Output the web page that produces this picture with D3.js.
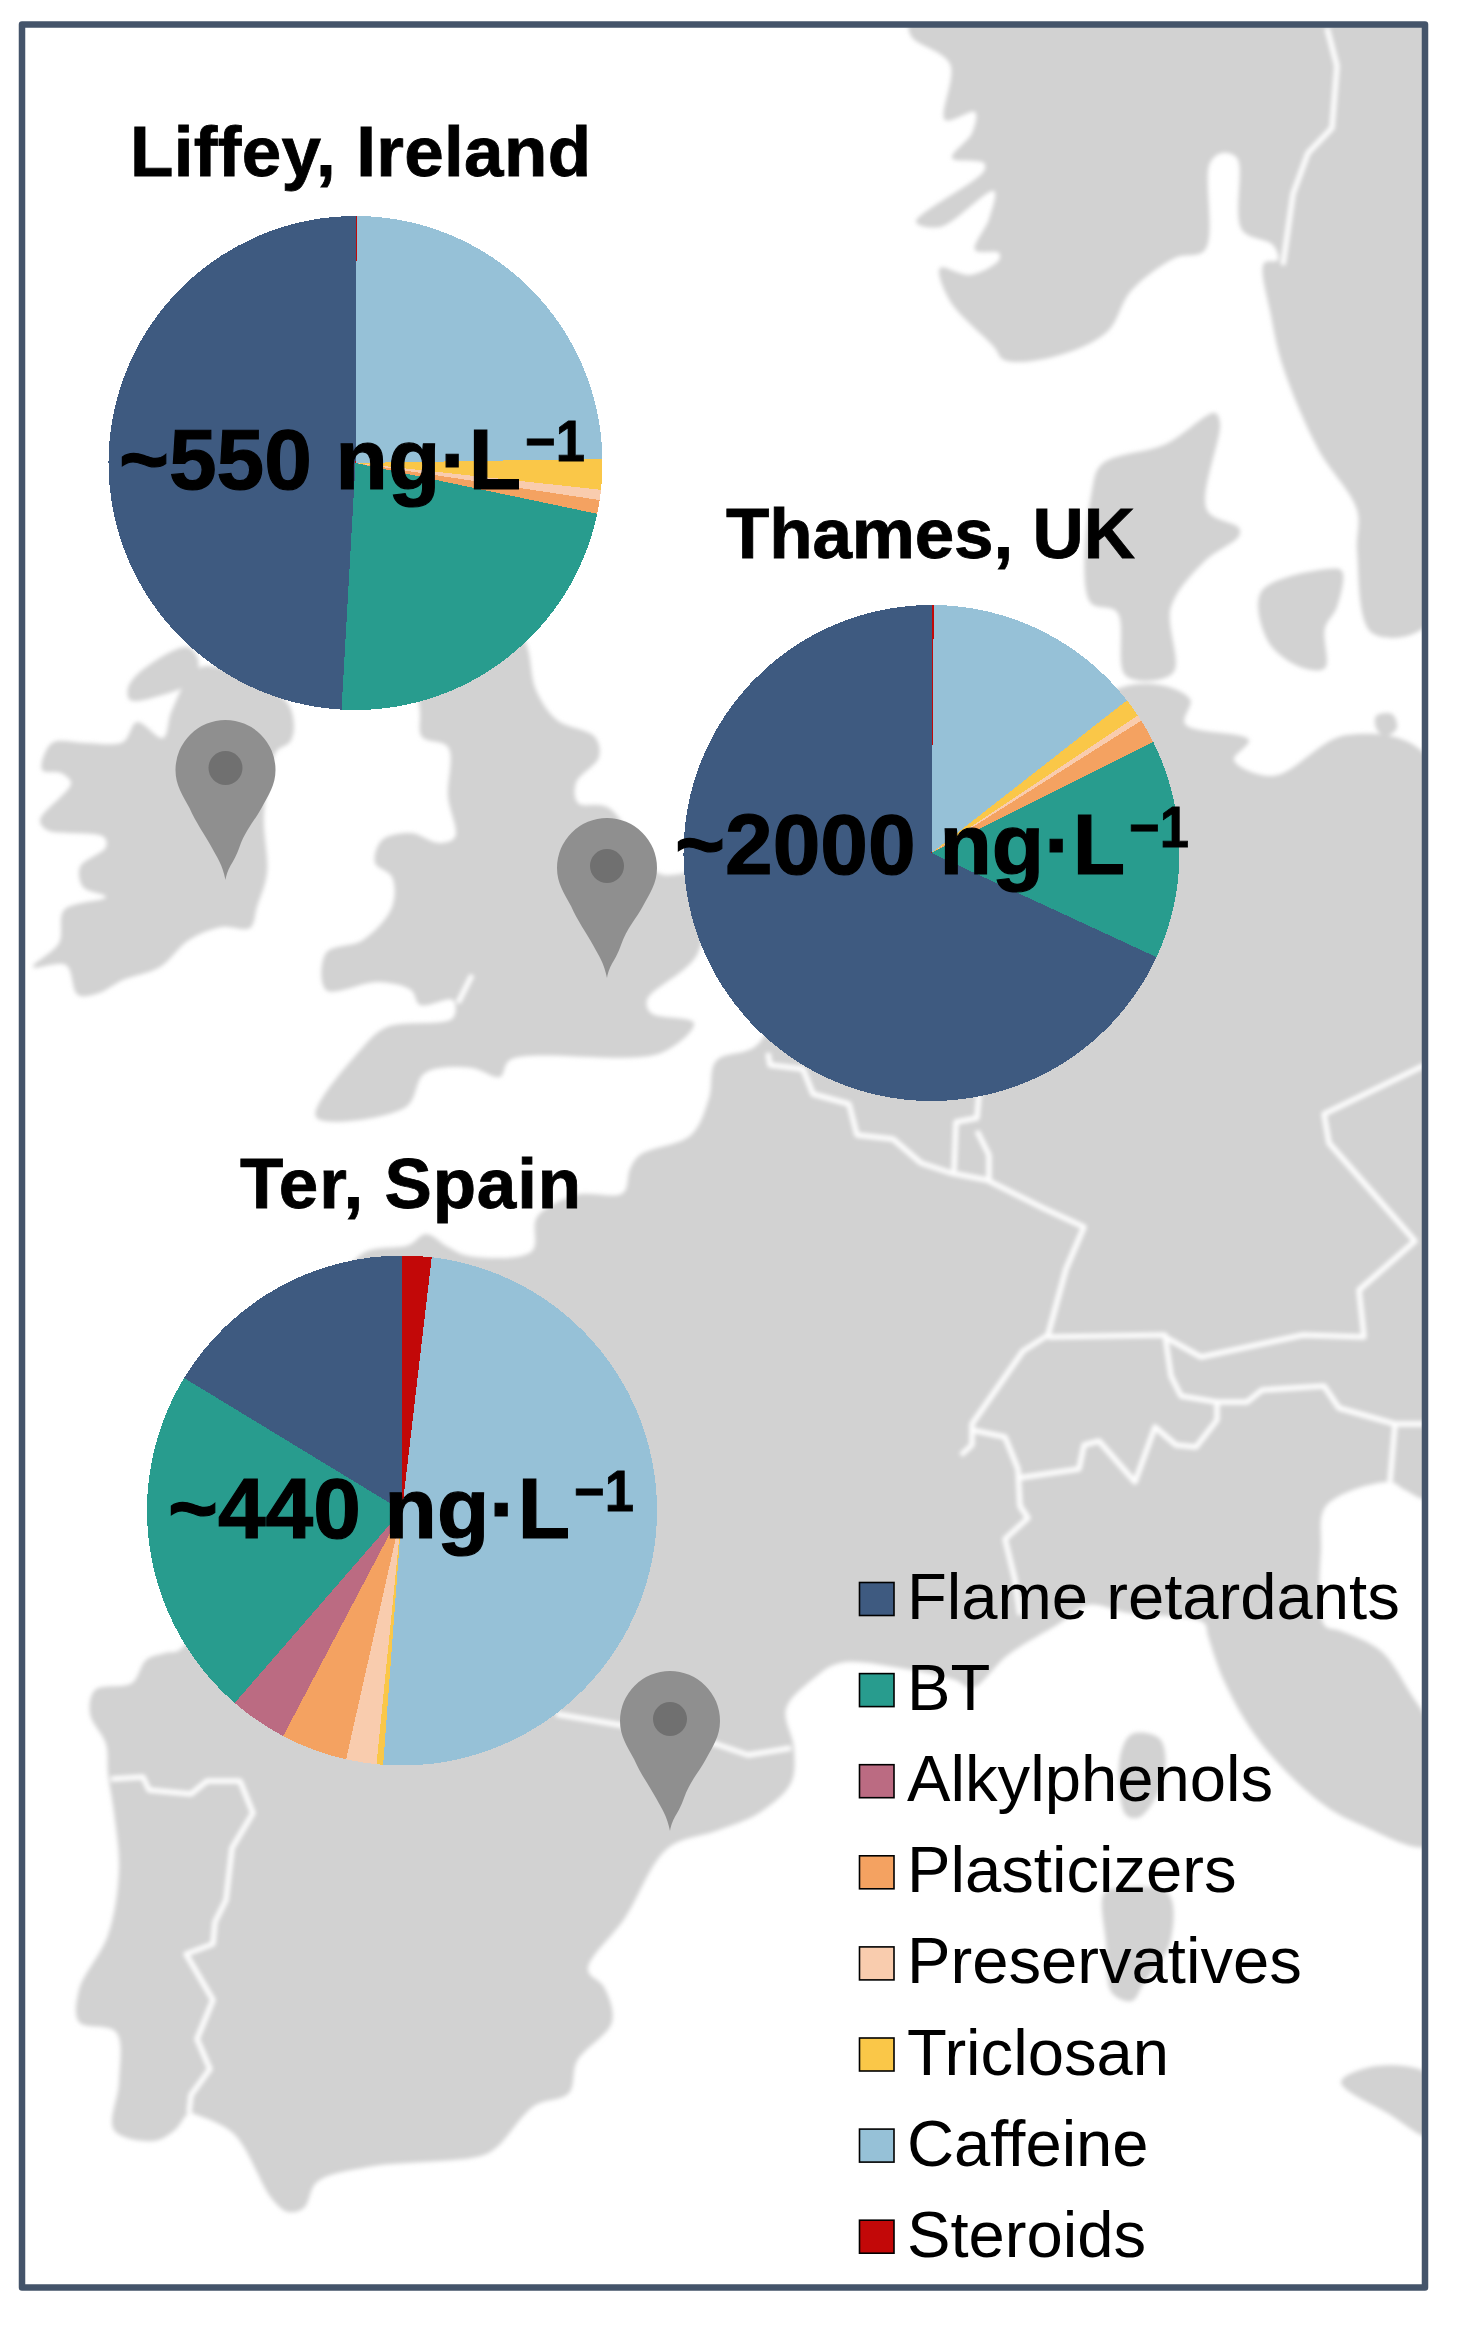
<!DOCTYPE html>
<html><head><meta charset="utf-8">
<script src="https://cdn.jsdelivr.net/npm/d3@7/dist/d3.min.js"></script>
<style>html,body{margin:0;padding:0;background:#fff}svg{display:block}text{font-family:"Liberation Sans",Arial,sans-serif;fill:#000}</style>
</head><body><div id="chart"></div>
<script>
// ---- data ----
const categories = ["Flame retardants","BT","Alkylphenols","Plasticizers","Preservatives","Triclosan","Caffeine","Steroids"];
const colors     = ["#3e5a80","#289c8e","#bb6b82","#f4a261","#f9ccae","#fac748","#96c1d7","#c20808"];
const liffeyValues = [49.1,22.6,0,0.9,0.67,2.0,24.65,0.08];
const thamesValues = [68.1,14.3,0,1.56,0.39,1.2,14.3,0.15];
const terValues    = [16.3,22.3,3.67,4.2,1.92,0.42,49.3,1.86];
const siteNames  = ["Liffey, Ireland","Thames, UK","Ter, Spain"];
const siteTotals = ["~550 ng·L","~2000 ng·L","~440 ng·L"];
const totalExponent = "−1";

// ---- background map outlines (in page pixels) ----
const landIreland = [[137,722],[163,738],[172,710],[201,667],[285,700],[294,725],[290,742],[276,752],[264,813],[267,873],[257,907],[250,928],[222,927],[189,940],[160,967],[123,980],[99,993],[78,995],[66,965],[33,967],[59,943],[64,910],[106,897],[83,887],[80,867],[106,847],[104,837],[47,830],[40,820],[71,783],[61,773],[42,770],[52,743],[85,743],[123,742]];
const landIslay = [[128,688],[141,671],[187,647],[198,659],[194,680],[159,696],[130,700]];
const landBritain = [[420,640],[420,713],[422,737],[448,747],[448,797],[455,837],[439,843],[411,833],[382,840],[375,863],[392,877],[392,907],[363,940],[326,953],[326,990],[378,982],[411,990],[420,1005],[453,1000],[453,1018],[387,1027],[363,1047],[316,1117],[406,1107],[425,1073],[472,1068],[500,1077],[510,1060],[661,1053],[694,1023],[651,1013],[647,1000],[698,953],[700,876],[658,873],[609,808],[578,803],[576,783],[599,757],[595,737],[557,720],[536,690],[526,643],[500,600]];
const landContinent = [[640,1155],[691,1135],[709,1098],[716,1061],[757,1045],[800,960],[1126,686],[1190,699],[1185,724],[1249,740],[1234,760],[1273,776],[1347,735],[1430,760],[1430,1498],[1405,1490],[1390,1482],[1326,1506],[1321,1551],[1320,1600],[1325,1626],[1341,1631],[1381,1651],[1409,1691],[1430,1730],[1430,1845],[1361,1825],[1320,1802],[1260,1742],[1224,1681],[1208,1636],[1204,1623],[1128,1613],[1088,1605],[1060,1623],[1008,1655],[972,1688],[955,1680],[900,1668],[840,1663],[813,1679],[786,1709],[794,1748],[791,1783],[759,1813],[716,1831],[668,1848],[625,1918],[588,1970],[604,1987],[612,2022],[577,2061],[569,2093],[534,2106],[497,2147],[481,2156],[368,2167],[317,2182],[304,2208],[288,2212],[272,2199],[234,2134],[197,2115],[189,2113],[175,2130],[154,2141],[114,2130],[119,2082],[116,2032],[79,2022],[79,1990],[108,1935],[119,1870],[114,1813],[108,1774],[106,1744],[90,1714],[95,1690],[132,1683],[146,1660],[165,1653],[181,1649],[300,1400],[359,1256],[409,1245],[426,1234],[448,1247],[469,1256],[532,1251],[537,1217],[576,1195],[623,1193],[630,1169]];
const landScandinavia = [[911,20],[911,36],[950,64],[945,120],[975,112],[972,133],[952,158],[984,163],[984,171],[916,222],[940,227],[994,191],[989,219],[975,250],[999,253],[999,260],[970,275],[940,268],[950,301],[994,347],[1004,360],[1053,357],[1107,332],[1131,291],[1175,258],[1205,250],[1210,163],[1222,153],[1237,158],[1242,230],[1273,245],[1278,260],[1264,263],[1271,316],[1283,367],[1318,449],[1357,510],[1357,551],[1372,633],[1430,622],[1430,20]];
const landJutland = [[1092,490],[1102,464],[1166,444],[1215,413],[1220,423],[1207,510],[1239,528],[1239,536],[1205,561],[1171,607],[1173,673],[1126,676],[1117,612],[1090,602]];
const landZealand = [[1261,592],[1327,569],[1342,571],[1337,607],[1325,628],[1325,668],[1303,668],[1269,643]];
const landBornholm = [[1376,716],[1392,714],[1397,728],[1386,736],[1377,730]];
const landCorsica = [[1120,1757],[1132,1734],[1160,1739],[1164,1777],[1140,1817],[1126,1815]];
const landSardinia = [[1104,1893],[1120,1888],[1168,1893],[1170,1943],[1144,1983],[1132,2001],[1112,1993],[1106,1943]];
const landSicily = [[1341,2082],[1377,2066],[1430,2076],[1430,2136],[1389,2114]];
const landShapes = [landIreland,landIslay,landBritain,landContinent,landScandinavia,landJutland,landZealand,landBornholm,landCorsica,landSardinia,landSicily];

const borderLines = [
 [[768,1053],[770,1065],[803,1069],[813,1094],[849,1104],[857,1135],[893,1139],[921,1163],[951,1173],[987,1180],[1043,1208],[1084,1227],[1066,1269],[1048,1335],[1023,1351],[972,1424],[972,1445],[961,1455]],
 [[972,1430],[1005,1437],[1018,1469],[1020,1506],[1028,1518],[1005,1539],[1015,1580],[1020,1615]],
 [[954,1171],[956,1122],[977,1118],[979,1094]],
 [[977,1131],[989,1155],[989,1180]],
 [[1048,1337],[1165,1335],[1171,1376],[1181,1396],[1217,1402],[1217,1420],[1196,1447],[1176,1445],[1155,1427],[1135,1482],[1099,1441],[1084,1445],[1079,1469],[1018,1478]],
 [[1165,1337],[1201,1357],[1303,1335],[1364,1337],[1359,1290],[1415,1241],[1329,1143],[1324,1114],[1425,1065]],
 [[1217,1402],[1247,1402],[1262,1390],[1324,1386],[1339,1408],[1395,1424],[1425,1424]],
 [[1395,1424],[1390,1482]],
 [[111,1779],[143,1777],[149,1790],[191,1794],[207,1781],[240,1781],[253,1813],[232,1848],[226,1900],[215,1922],[213,1944],[186,1954],[213,2000],[197,2039],[210,2069],[191,2095],[189,2113]],
 [[556,1714],[620,1725],[716,1744],[748,1755],[791,1748]],
 [[1283,265],[1293,194],[1308,153],[1332,128],[1337,66],[1327,28]],
 [[472,975],[458,1003]]
];
const pinTips = [[225.5,880],[607,978],[670,1831]];

// ---- layout ----
const W = 1468, H = 2330;
const svg = d3.select("#chart").append("svg").attr("width",W).attr("height",H);
const defs = svg.append("defs");
defs.append("clipPath").attr("id","frameClip").append("rect").attr("x",24).attr("y",27).attr("width",1398).attr("height",2258);
defs.append("filter").attr("id","soft").attr("x","-2%").attr("y","-2%").attr("width","104%").attr("height","104%")
  .append("feGaussianBlur").attr("stdDeviation",1.9);

const mapClip = svg.append("g").attr("clip-path","url(#frameClip)");
const mapG = mapClip.append("g").attr("filter","url(#soft)");
const outline = d3.line().curve(d3.curveCatmullRomClosed.alpha(0.5));
const polyline = d3.line();
mapG.selectAll("path.land").data(landShapes).join("path").attr("class","land").attr("d",outline).attr("fill","#d2d2d2");
mapG.selectAll("path.border").data(borderLines).join("path").attr("class","border").attr("d",polyline)
  .attr("fill","none").attr("stroke","#fff").attr("stroke-width",5).attr("stroke-linejoin","round");

// pins
const pinPath = "M0,0C-3,-15-8,-22-14,-33S-30,-58-36,-72C-43,-85-50,-95-50,-110A50,50 0 0 1 50,-110C50,-95 43,-85 36,-72S20,-50 14,-33S3,-15 0,0Z";
const pins = mapClip.selectAll("g.pin").data(pinTips).join("g").attr("class","pin").attr("transform",d=>`translate(${d[0]},${d[1]})`);
pins.append("path").attr("d",pinPath).attr("fill","#8f8f8f");
pins.append("circle").attr("cy",-112).attr("r",17).attr("fill","#707070");

// frame
svg.append("rect").attr("x",22).attr("y",24.5).attr("width",1403).attr("height",2263)
  .attr("fill","none").attr("stroke","#44546a").attr("stroke-width",6.5).attr("stroke-linejoin","round");

// pies
const color = d3.scaleOrdinal(categories, colors);
const pieGen = d3.pie().sort(null).startAngle(0).endAngle(-2*Math.PI);
const pieLayout = [
 {values:liffeyValues, cx:355.5, cy:463, r:247},
 {values:thamesValues, cx:931.5, cy:853, r:248},
 {values:terValues,    cx:402,   cy:1510.5, r:255}
];
const titleLayout = [
 {x:130, y:176, len:461},
 {x:726, y:558, len:409},
 {x:240, y:1208, len:341}
];
const totalLayout = [
 {x:119, y:488.5, len:402, sx:525, sy:461},
 {x:675, y:874, len:450, sx:1129, sy:847},
 {x:168, y:1537.5, len:402, sx:574, sy:1511}
];
pieLayout.forEach((p,i)=>{
  const arc = d3.arc().innerRadius(0).outerRadius(p.r);
  svg.append("g").attr("transform",`translate(${p.cx},${p.cy})`)
    .selectAll("path").data(pieGen(p.values)).join("path")
    .attr("d",arc).attr("fill",(d,k)=>color(categories[k])).attr("shape-rendering","crispEdges");
});
siteNames.forEach((name,i)=>{
  const t = titleLayout[i], s = totalLayout[i];
  svg.append("text").attr("x",t.x).attr("y",t.y).attr("font-size",71).attr("font-weight",700)
    .attr("stroke","#000").attr("stroke-width",0.8)
    .attr("textLength",t.len).text(name);
  svg.append("text").attr("x",s.x).attr("y",s.y).attr("font-size",86).attr("font-weight",700)
    .attr("stroke","#000").attr("stroke-width",1.2)
    .attr("textLength",s.len).attr("lengthAdjust","spacingAndGlyphs").text(siteTotals[i]);
  svg.append("text").attr("x",s.sx).attr("y",s.sy).attr("font-size",57).attr("font-weight",700)
    .attr("stroke","#000").attr("stroke-width",0.8)
    .attr("textLength",60).attr("lengthAdjust","spacingAndGlyphs").text(totalExponent);
});

// legend
const legendY = d3.scalePoint(categories,[1599,1599+7*91.1]);
const lg = svg.append("g").selectAll("g").data(categories).join("g").attr("transform",d=>`translate(0,${legendY(d)})`);
lg.append("rect").attr("x",859.5).attr("y",-16.5).attr("width",34.5).attr("height",33)
  .attr("fill",d=>color(d)).attr("stroke","#000").attr("stroke-width",1.6);
lg.append("text").attr("x",907).attr("y",20).attr("font-size",65.2).text(d=>d);
</script></body></html>
